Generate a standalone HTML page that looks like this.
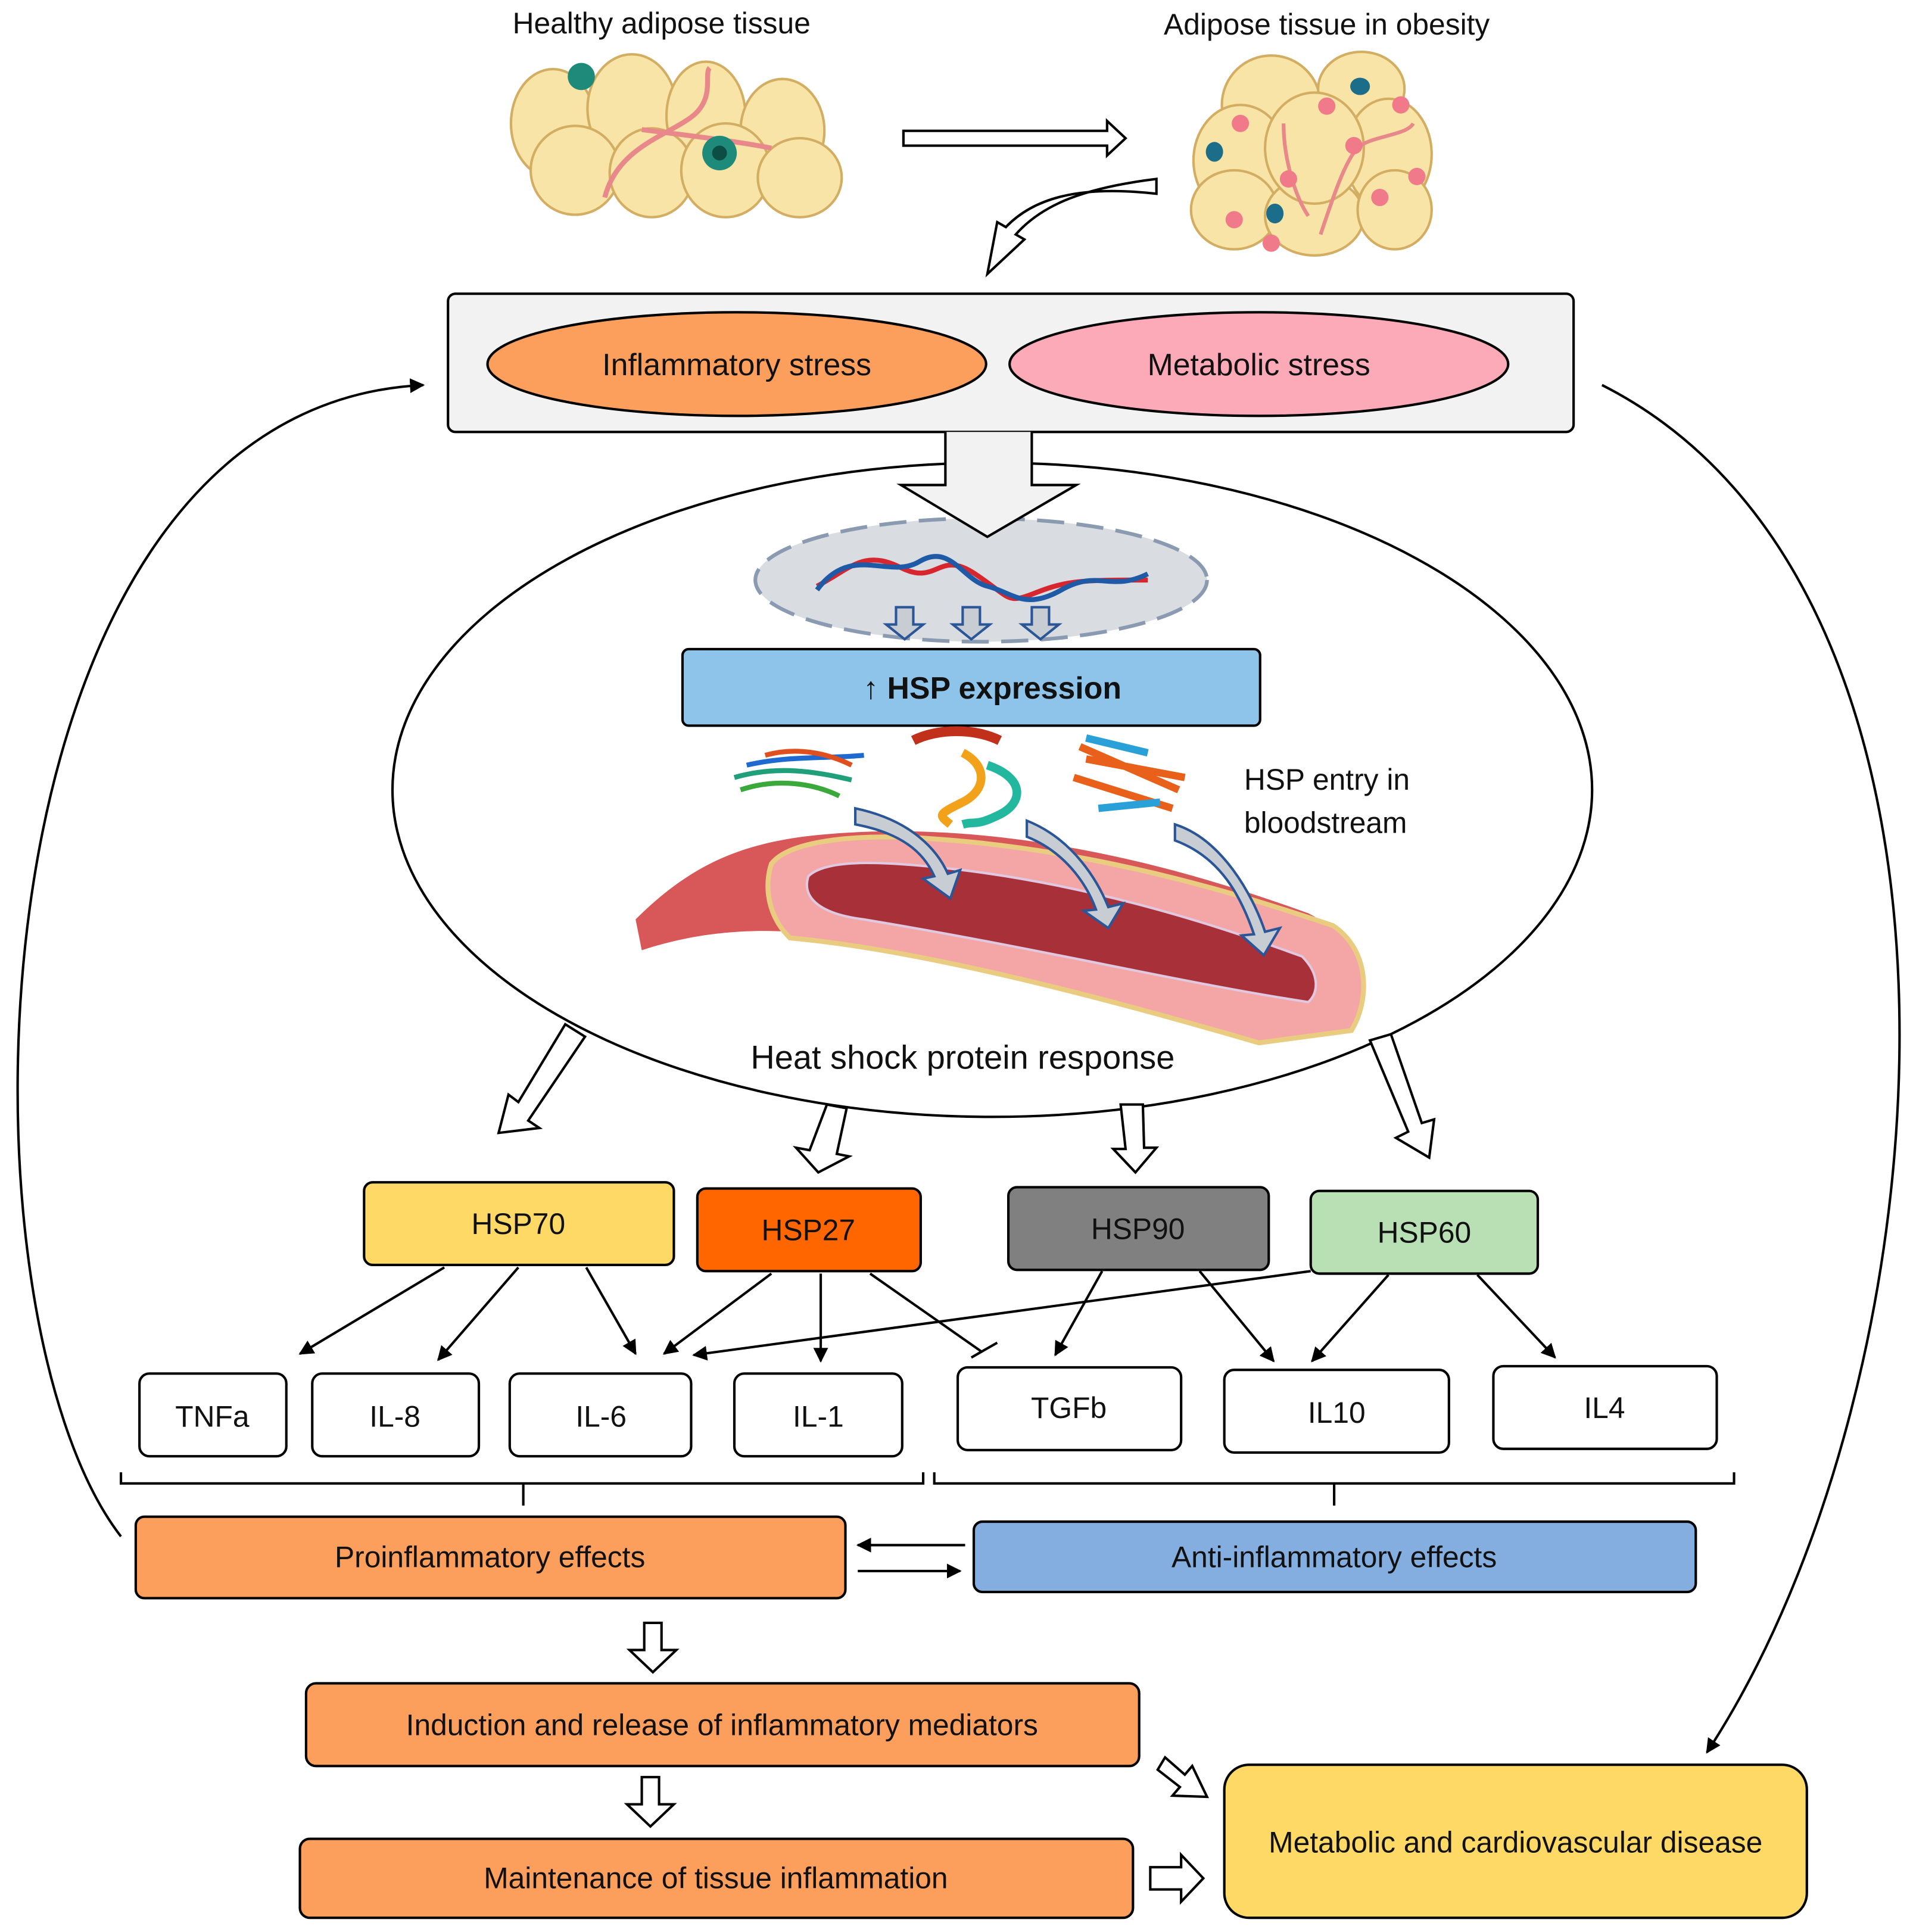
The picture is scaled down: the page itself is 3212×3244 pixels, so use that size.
<!DOCTYPE html>
<html><head><meta charset="utf-8"><style>
html,body{margin:0;padding:0;background:#fff}
svg{display:block}
text{font-family:"Liberation Sans",sans-serif;fill:#111}
</style></head><body>
<svg width="3212" height="3244" viewBox="0 0 1550 1565.5" preserveAspectRatio="none" xmlns="http://www.w3.org/2000/svg">
<defs>
<marker id="ah" viewBox="0 0 10 10" refX="9" refY="5" markerWidth="6" markerHeight="6" orient="auto-start-reverse"><path d="M0,0 L10,5 L0,10 z" fill="#000"/></marker>
</defs>

<text x="536" y="27" font-size="24" text-anchor="middle">Healthy adipose tissue</text>
<text x="1075" y="28" font-size="24" text-anchor="middle">Adipose tissue in obesity</text>

<g fill="#f8e4a6" stroke="#d2ad62" stroke-width="2">
<ellipse cx="448" cy="100" rx="34" ry="44"/>
<ellipse cx="512" cy="88" rx="36" ry="44"/>
<ellipse cx="572" cy="94" rx="32" ry="44"/>
<ellipse cx="634" cy="106" rx="34" ry="42"/>
<ellipse cx="466" cy="138" rx="36" ry="36"/>
<ellipse cx="528" cy="140" rx="34" ry="36"/>
<ellipse cx="588" cy="138" rx="36" ry="38"/>
<ellipse cx="648" cy="144" rx="34" ry="32"/>
</g>
<path d="M490,160 C500,120 540,110 560,95 S570,60 575,55 M520,105 C560,110 600,115 625,120" stroke="#e8888a" stroke-width="4" fill="none"/>
<circle cx="471" cy="62" r="11" fill="#1e8a7a"/>
<circle cx="583" cy="124" r="14" fill="#1e8a7a"/>
<circle cx="583" cy="124" r="6" fill="#0c4d44"/>

<g fill="#f8e4a6" stroke="#d2ad62" stroke-width="2">
<ellipse cx="1030" cy="85" rx="40" ry="40"/>
<ellipse cx="1103" cy="72" rx="35" ry="30"/>
<ellipse cx="1005" cy="130" rx="38" ry="45"/>
<ellipse cx="1125" cy="125" rx="35" ry="45"/>
<ellipse cx="1000" cy="170" rx="35" ry="32"/>
<ellipse cx="1065" cy="175" rx="40" ry="32"/>
<ellipse cx="1130" cy="170" rx="30" ry="32"/>
<ellipse cx="1065" cy="120" rx="40" ry="45"/>
</g>
<path d="M1070,190 C1080,160 1090,130 1100,120 S1140,110 1145,100 M1040,100 C1040,130 1050,160 1060,175" stroke="#e8888a" stroke-width="3" fill="none"/>
<g fill="#f07a8a"><circle cx="1005" cy="100" r="7"/><circle cx="1075" cy="86" r="7"/><circle cx="1135" cy="85" r="7"/><circle cx="1097" cy="118" r="7"/><circle cx="1044" cy="145" r="7"/><circle cx="1148" cy="143" r="7"/><circle cx="1118" cy="160" r="7"/><circle cx="1000" cy="178" r="7"/><circle cx="1030" cy="197" r="7"/></g>
<g fill="#1b6d8a"><ellipse cx="1102" cy="70" rx="8" ry="7"/><ellipse cx="984" cy="123" rx="7" ry="8"/><ellipse cx="1033" cy="173" rx="7" ry="8"/></g>

<path d="M732,106 L897,106 L897,98 L912,112 L897,126 L897,118 L732,118 Z" fill="#fff" stroke="#000" stroke-width="2"/>
<path d="M937,145 C880,152 845,165 823,190 L830,194 L800,222 L808,180 L815,184 C838,160 875,150 937,157 Z" fill="#fff" stroke="#000" stroke-width="2"/>

<rect x="363" y="238" width="912" height="112" rx="6" fill="#f2f2f2" stroke="#000" stroke-width="2"/>
<ellipse cx="597" cy="295" rx="202" ry="42" fill="#fd9f5c" stroke="#000" stroke-width="2"/>
<text x="597" y="304" font-size="25" text-anchor="middle">Inflammatory stress</text>
<ellipse cx="1020" cy="295" rx="202" ry="42" fill="#fdaab8" stroke="#000" stroke-width="2"/>
<text x="1020" y="304" font-size="25" text-anchor="middle">Metabolic stress</text>

<path d="M98,1245 C-45,1060 -30,330 343,312" fill="none" stroke="#000" stroke-width="2" marker-end="url(#ah)"/>
<path d="M1298,312 C1630,480 1580,1120 1383,1420" fill="none" stroke="#000" stroke-width="2" marker-end="url(#ah)"/>

<ellipse cx="804" cy="640" rx="486" ry="265" fill="#fff" stroke="#000" stroke-width="2"/>

<ellipse cx="795" cy="470" rx="183" ry="50" fill="#d9dce0" stroke="#8a9ab0" stroke-width="3" stroke-dasharray="22,10"/>
<path d="M766,350 L766,393 L730,393 L800,435 L872,393 L836,393 L836,350" fill="#f2f2f2" stroke="#000" stroke-width="2"/>
<path d="M662,475 C690,460 700,445 730,460 S760,445 790,465 S815,490 840,480 S880,470 930,470" stroke="#d7262e" stroke-width="4" fill="none"/>
<path d="M662,478 C690,440 720,470 745,455 S780,470 800,475 S830,495 860,478 S900,480 930,465" stroke="#1f5aa6" stroke-width="4" fill="none"/>
<g fill="#c8cdd4" stroke="#2a5597" stroke-width="2">
<path d="M726,492 h14 v14 h8 l-15,12 l-15,-12 h8 z"/>
<path d="M780,492 h14 v14 h8 l-15,12 l-15,-12 h8 z"/>
<path d="M836,492 h14 v14 h8 l-15,12 l-15,-12 h8 z"/>
</g>

<rect x="553" y="526" width="468" height="62" rx="5" fill="#8ec4ea" stroke="#000" stroke-width="2"/>
<text x="804" y="566" font-size="25" font-weight="bold" text-anchor="middle">↑ HSP expression</text>

<g fill="none" stroke-width="4">
<path d="M600,640 C630,630 660,635 680,645" stroke="#3aa83a"/>
<path d="M595,630 C630,620 660,625 690,632" stroke="#1fa07a"/>
<path d="M605,620 C640,612 670,615 700,612" stroke="#1f6ad0"/>
<path d="M620,612 C645,605 670,610 690,620" stroke="#e0501f"/>
<path d="M740,600 C760,590 790,590 810,600" stroke="#c0301a" stroke-width="8"/>
<path d="M780,610 C800,620 800,640 780,650 S760,660 770,668" stroke="#f2a21a" stroke-width="7"/>
<path d="M800,620 C830,630 830,650 810,660 S790,665 780,668" stroke="#22b8a0" stroke-width="7"/>
<path d="M875,605 L955,640 M870,630 L950,655 M880,615 L960,630" stroke="#e8601a" stroke-width="6"/>
<path d="M880,598 L930,610 M890,655 L940,650" stroke="#2aa0d8" stroke-width="6"/>
</g>
<text x="1008" y="640" font-size="24">HSP entry in</text>
<text x="1008" y="675" font-size="24">bloodstream</text>

<path d="M515,745 C560,700 600,685 650,678 C800,660 950,700 1060,740 C1100,760 1110,800 1090,830 L1020,845 C900,800 750,765 640,755 C590,752 550,760 520,770 Z" fill="#d8585a"/>
<path d="M625,700 C640,680 700,675 760,680 C900,690 1020,730 1080,750 C1110,770 1110,810 1095,835 L1020,845 C900,810 750,770 640,760 C620,740 620,715 625,700 Z" fill="#f4a5a5" stroke="#e9cc80" stroke-width="4"/>
<path d="M655,710 C670,695 720,698 780,705 C900,720 1000,755 1055,775 C1070,790 1068,805 1060,812 C950,795 850,770 700,745 C660,740 650,725 655,710 Z" fill="#a83038" stroke="#e0c8e0" stroke-width="2"/>
<g fill="#c8cdd4" stroke="#2a5597" stroke-width="2">
<path d="M693,655 C740,665 760,690 768,708 L778,705 L770,728 L748,712 L757,710 C748,690 730,675 693,668 Z"/>
<path d="M832,665 C870,680 890,715 898,735 L910,732 L898,752 L878,738 L888,737 C880,715 862,690 832,678 Z"/>
<path d="M952,668 C990,680 1015,725 1025,755 L1037,752 L1024,774 L1006,758 L1016,757 C1006,728 990,695 952,681 Z"/>
</g>
<text x="780" y="866" font-size="27" text-anchor="middle">Heat shock protein response</text>

<g fill="#fff" stroke="#000" stroke-width="2">
<path d="M458,830 L474,840 L428,908 L437,914 L404,918 L412,887 L420,893 Z"/>
<path d="M670,895 L686,898 L678,935 L688,937 L663,950 L645,930 L656,932 Z"/>
<path d="M908,895 L926,895 L927,930 L937,930 L920,950 L902,931 L912,931 Z"/>
<path d="M1110,843 L1127,838 L1152,910 L1162,907 L1158,938 L1131,922 L1141,917 Z"/>
</g>

<rect x="295" y="958" width="251" height="67" rx="7" fill="#ffd966" stroke="#000" stroke-width="2"/>
<text x="420" y="1000" font-size="24" text-anchor="middle">HSP70</text>
<rect x="565" y="963" width="181" height="67" rx="7" fill="#ff6600" stroke="#000" stroke-width="2"/>
<text x="655" y="1005" font-size="24" text-anchor="middle">HSP27</text>
<rect x="817" y="962" width="211" height="67" rx="7" fill="#808080" stroke="#000" stroke-width="2"/>
<text x="922" y="1004" font-size="24" text-anchor="middle">HSP90</text>
<rect x="1062" y="965" width="184" height="67" rx="7" fill="#b9e0b4" stroke="#000" stroke-width="2"/>
<text x="1154" y="1007" font-size="24" text-anchor="middle">HSP60</text>

<g fill="#fff" stroke="#000" stroke-width="2">
<rect x="113" y="1113" width="119" height="67" rx="8"/>
<rect x="253" y="1113" width="135" height="67" rx="8"/>
<rect x="413" y="1113" width="147" height="67" rx="8"/>
<rect x="595" y="1113" width="136" height="67" rx="8"/>
<rect x="776" y="1108" width="181" height="67" rx="8"/>
<rect x="992" y="1110" width="182" height="67" rx="8"/>
<rect x="1210" y="1107" width="181" height="67" rx="8"/>
</g>
<g font-size="24" text-anchor="middle">
<text x="172" y="1156">TNFa</text>
<text x="320" y="1156">IL-8</text>
<text x="487" y="1156">IL-6</text>
<text x="663" y="1156">IL-1</text>
<text x="866" y="1149">TGFb</text>
<text x="1083" y="1153">IL10</text>
<text x="1300" y="1149">IL4</text>
</g>

<g stroke="#000" stroke-width="2" fill="none" marker-end="url(#ah)">
<path d="M360,1027 L243,1097"/>
<path d="M420,1027 L355,1102"/>
<path d="M475,1027 L515,1097"/>
<path d="M625,1032 L538,1097"/>
<path d="M665,1032 L665,1103"/>
<path d="M1062,1030 L562,1098"/>
<path d="M893,1030 L855,1098"/>
<path d="M972,1030 L1032,1103"/>
<path d="M1125,1033 L1063,1103"/>
<path d="M1197,1033 L1260,1100"/>
</g>
<path d="M705,1032 L795,1095 M787,1100 L808,1088" stroke="#000" stroke-width="2" fill="none"/>

<path d="M98,1193 L98,1202 L748,1202 L748,1193 M424,1202 L424,1220 M757,1193 L757,1202 L1405,1202 L1405,1193 M1081,1202 L1081,1220" stroke="#000" stroke-width="2" fill="none"/>

<rect x="110" y="1229" width="575" height="66" rx="7" fill="#fd9f5c" stroke="#000" stroke-width="2"/>
<text x="397" y="1270" font-size="24" text-anchor="middle">Proinflammatory effects</text>
<rect x="789" y="1233" width="585" height="57" rx="7" fill="#84aee0" stroke="#000" stroke-width="2"/>
<text x="1081" y="1270" font-size="24" text-anchor="middle">Anti-inflammatory effects</text>
<path d="M782,1252 L695,1252" stroke="#000" stroke-width="2" marker-end="url(#ah)"/>
<path d="M695,1273 L778,1273" stroke="#000" stroke-width="2" marker-end="url(#ah)"/>

<g fill="#fff" stroke="#000" stroke-width="2">
<path d="M522,1315 h14 v22 h12 l-19,18 l-19,-18 h12 z"/>
<path d="M520,1440 h14 v22 h12 l-19,18 l-19,-18 h12 z"/>
<path d="M932,1513 h25 v-10 l18,19 l-18,19 v-10 h-25 z"/>
<path d="M944,1424 L960,1438 L966,1431 L978,1456 L950,1455 L956,1448 L938,1434 Z"/>
</g>

<rect x="248" y="1364" width="675" height="67" rx="8" fill="#fd9f5c" stroke="#000" stroke-width="2"/>
<text x="585" y="1406" font-size="24" text-anchor="middle">Induction and release of inflammatory mediators</text>
<rect x="243" y="1490" width="675" height="64" rx="8" fill="#fd9f5c" stroke="#000" stroke-width="2"/>
<text x="580" y="1530" font-size="24" text-anchor="middle">Maintenance of tissue inflammation</text>
<rect x="992" y="1430" width="472" height="124" rx="20" fill="#ffd966" stroke="#000" stroke-width="2"/>
<text x="1228" y="1501" font-size="24" text-anchor="middle">Metabolic and cardiovascular disease</text>
</svg>
</body></html>
